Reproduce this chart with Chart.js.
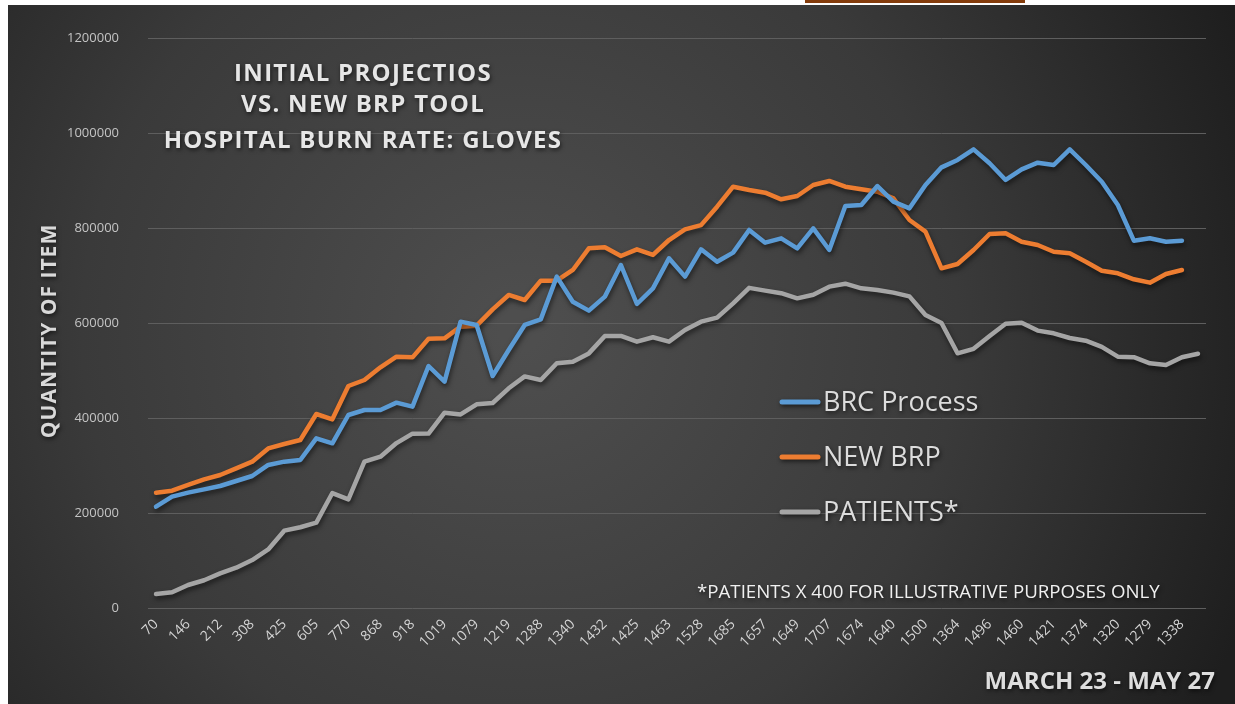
<!DOCTYPE html>
<html>
<head>
<meta charset="utf-8">
<script src="https://cdn.jsdelivr.net/npm/chart.js@4.4.0/dist/chart.umd.min.js"></script>
<style>
  html, body { margin: 0; padding: 0; background: #fff; }
  #wrap { width: 1235px; height: 704px; position: relative; }
</style>
</head>
<body>
<div id="wrap"><canvas id="burnChart" width="1235" height="704"></canvas></div>
<script>
// patients per day (only every other one is printed on the axis)
const pacientes = [70, 121, 146, 183, 212, 253, 308, 407, 425, 449, 605, 572, 770, 797, 868, 917, 918, 1028, 1019, 1072,
    1079, 1156, 1219, 1200, 1288, 1297, 1340, 1432, 1432, 1402, 1425, 1402, 1463, 1507, 1528, 1604, 1685, 1670, 1657, 1630,
    1649, 1691, 1707, 1683, 1674, 1660, 1640, 1542, 1500, 1341, 1364, 1432, 1496, 1502, 1460, 1446, 1421, 1407, 1374, 1323,
    1320, 1288, 1279, 1320, 1338, 1345];

const brcProcess = [213300, 234400, 242800, 249800, 256800, 267400, 277900, 301100, 308100, 311600, 357200, 346700, 406300,
    416800, 416800, 432300, 423900, 509500, 476500, 602800, 595800, 488400, 543200, 595800, 607700, 697600, 644900, 626000,
    655500, 722100, 640000, 673000, 736100, 697600, 755100, 729100, 748100, 795800, 769100, 778300, 757200, 799300, 753700,
    846300, 848400, 888400, 855400, 841400, 890500, 927700, 943200, 965600, 936200, 901100, 923500, 937500, 932600, 965600,
    932600, 897500, 848400, 773300, 778300, 771200, 773300];

const newBrp = [242700, 247000, 259000, 270900, 280000, 294000, 308000, 336000, 345300, 353700, 408400, 397200, 467400,
    480000, 506700, 529100, 527700, 567000, 567700, 592300, 594400, 628800, 659000, 648400, 689200, 689200, 711600, 757200,
    759300, 741100, 755100, 743200, 774700, 797200, 806000, 844900, 887000, 880000, 874400, 860400, 867400, 890500, 899000,
    887000, 881400, 876500, 862500, 816900, 792300, 715100, 724200, 753700, 787400, 788800, 771200, 764200, 750100, 746700,
    729100, 710100, 704600, 692000, 684900, 703200, 711600];

// patients x 400
const patients400 = [29500, 33000, 48400, 58400, 73000, 84800, 101000, 123200, 162800, 170000, 179700, 242000, 228800,
    308000, 318600, 347200, 367000, 367200, 411200, 407600, 428800, 431600, 462500, 487600, 480000, 515200, 518600, 536000,
    572600, 572800, 560700, 570000, 560700, 585200, 602800, 611200, 641400, 674000, 668100, 662800, 651900, 659600, 676500,
    682800, 673000, 669600, 663900, 656000, 616900, 600000, 536200, 545600, 572600, 598400, 600700, 584000, 578300, 568400,
    562800, 549600, 529100, 528000, 515100, 511600, 527800, 535200];

const yTicks = [0, 200000, 400000, 600000, 800000, 1000000, 1200000];

const tituloLineas = ['INITIAL PROJECTIOS', 'VS. NEW BRP TOOL', 'HOSPITAL BURN RATE: GLOVES'];
const nombresSeries = ['BRC Process', 'NEW BRP', 'PATIENTS*'];
const colores = ['#5b9bd5', '#ed7d31', '#a5a5a5'];

const ctx = document.getElementById('burnChart').getContext('2d');

// fondo oscuro tipo powerpoint
const fondoPlugin = {
    id: 'fondo',
    beforeDraw(chart) {
        const c = chart.ctx;
        c.save();
        c.fillStyle = '#ffffff';
        c.fillRect(0, 0, chart.width, chart.height);
        const g = c.createRadialGradient(520, 330, 20, 520, 330, 780);
        g.addColorStop(0, '#4e4e4e');
        g.addColorStop(0.55, '#3a3a3a');
        g.addColorStop(1, '#1e1e1e');
        c.fillStyle = g;
        c.fillRect(8, 5, chart.width - 8, chart.height - 5);
        c.fillStyle = '#843c0c';
        c.fillRect(805, 0, 220, 3);
        c.restore();
    }
};

// sombra de las lineas
const sombraPlugin = {
    id: 'sombra',
    beforeDatasetsDraw(chart) {
        const c = chart.ctx;
        c.save();
        c.shadowColor = 'rgba(0,0,0,0.55)';
        c.shadowBlur = 5;
        c.shadowOffsetX = 1;
        c.shadowOffsetY = 3;
    },
    afterDatasetsDraw(chart) {
        chart.ctx.restore();
    }
};

// textos: titulo, eje y, leyenda, notas
const textosPlugin = {
    id: 'textos',
    afterDraw(chart) {
        const c = chart.ctx;
        c.save();
        c.shadowColor = 'rgba(0,0,0,0.6)';
        c.shadowBlur = 4;
        c.shadowOffsetX = 1;
        c.shadowOffsetY = 2;

        c.fillStyle = '#e6e6e6';
        c.textAlign = 'center';
        c.textBaseline = 'middle';
        c.font = 'bold 24px "Open Sans"';
        c.letterSpacing = '1.3px';
        const ys = [74, 105, 141];
        tituloLineas.forEach((t, i) => c.fillText(t, 363, ys[i]));

        // titulo eje y
        c.save();
        c.translate(50, 331);
        c.rotate(-Math.PI / 2);
        c.font = 'bold 21px "Open Sans"';
        c.letterSpacing = '1px';
        c.fillStyle = '#d9d9d9';
        c.fillText('QUANTITY OF ITEM', 0, 0);
        c.restore();

        // leyenda
        c.letterSpacing = '0px';
        c.font = '27px "Open Sans"';
        c.textAlign = 'left';
        const ly = [402, 457, 512];
        chart.data.datasets.forEach((ds, i) => {
            c.strokeStyle = ds.borderColor;
            c.lineWidth = 5;
            c.lineCap = 'round';
            c.beginPath();
            c.moveTo(782, ly[i]);
            c.lineTo(818, ly[i]);
            c.stroke();
            c.fillStyle = '#dcdcdc';
            c.fillText(nombresSeries[i], 823, ly[i] + 1);
        });

        c.font = '18.7px "Open Sans"';
        c.fillStyle = '#f0f0f0';
        c.textAlign = 'left';
        c.fillText('*PATIENTS X 400 FOR ILLUSTRATIVE PURPOSES ONLY', 697, 593);

        c.font = 'bold 24px "Open Sans"';
        c.fillStyle = '#dedede';
        c.textAlign = 'right';
        c.fillText('MARCH 23 - MAY 27', 1215, 682);
        c.restore();
    }
};

const myChart = new Chart(ctx, {
    type: 'line',
    data: {
        labels: pacientes,
        datasets: [{
            label: nombresSeries[0],
            data: brcProcess,
            borderColor: colores[0]
        }, {
            label: nombresSeries[1],
            data: newBrp,
            borderColor: colores[1]
        }, {
            label: nombresSeries[2],
            data: patients400,
            borderColor: colores[2]
        }]
    },
    options: {
        responsive: false,
        animation: false,
        layout: { padding: { left: 48, right: 29, top: 38, bottom: 36 } },
        plugins: { legend: { display: false }, tooltip: { enabled: false } },
        elements: {
            point: { radius: 0 },
            line: { borderWidth: 4.5, tension: 0, borderJoinStyle: 'round', borderCapStyle: 'round', fill: false }
        },
        scales: {
            x: {
                offset: true,
                grid: { display: false },
                border: { display: false },
                ticks: {
                    autoSkip: false,
                    minRotation: 45,
                    maxRotation: 45,
                    padding: 0,
                    color: '#d4d4d4',
                    font: { family: 'Open Sans', size: 14 },
                    callback: (v, i) => i % 2 === 0 ? String(pacientes[i]) : ''
                },
                afterFit: s => { s.height = 60; }
            },
            y: {
                min: 0,
                max: 1200000,
                afterBuildTicks: s => { s.ticks = yTicks.map(v => ({ value: v })); },
                grid: { color: '#5e5e5e', drawTicks: false, lineWidth: 1 },
                border: { display: false },
                ticks: {
                    padding: 29,
                    color: '#c4c4c4',
                    font: { family: 'Open Sans', size: 13 },
                    callback: v => String(v)
                },
                afterFit: s => { s.width = 100; }
            }
        }
    },
    plugins: [fondoPlugin, sombraPlugin, textosPlugin]
});
</script>
</body>
</html>
